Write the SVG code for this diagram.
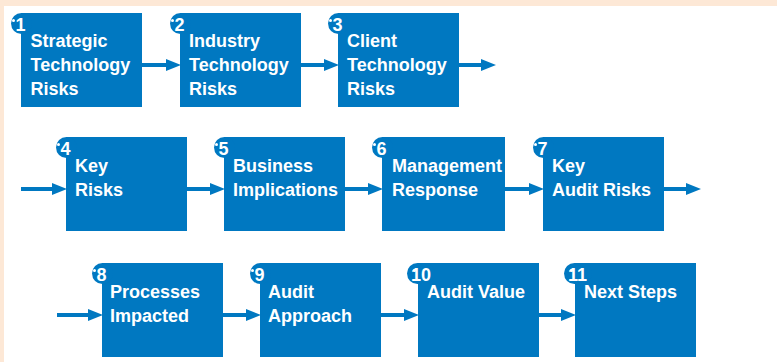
<svg xmlns="http://www.w3.org/2000/svg" width="777" height="362" viewBox="0 0 777 362">
  <style>
    .box { fill: #0078c1; }
    .badge { fill: #0078c1; }
    .dot { fill: #ffffff; }
    .num { font-family: "Liberation Sans", Arial, sans-serif; font-weight: bold; font-size: 18px; fill: #ffffff; }
    .lbl { font-family: "Liberation Sans", Arial, sans-serif; font-weight: bold; font-size: 18px; fill: #ffffff; }
    .flow { stroke: #0078c1; stroke-width: 4; fill: none; }
  </style>
  <defs>
    <marker id="head" markerUnits="userSpaceOnUse" markerWidth="15" markerHeight="12" refX="0" refY="6" orient="auto">
      <path d="M0,0 L15,6 L0,12 z" fill="#0078c1"/>
    </marker>
  </defs>

  <!-- page background with tinted top and left margins -->
  <rect x="0" y="0" width="777" height="362" fill="#ffffff"/>
  <rect x="0" y="0" width="777" height="6" fill="#fde8d6"/>
  <rect x="0" y="0" width="4" height="362" fill="#fde8d6"/>

  <!-- connectors -->
  <g id="connectors">
    <line class="flow" x1="142" y1="65" x2="166" y2="65" marker-end="url(#head)"/>
    <line class="flow" x1="301" y1="65" x2="324" y2="65" marker-end="url(#head)"/>
    <line class="flow" x1="459" y1="65" x2="481" y2="65" marker-end="url(#head)"/>

    <line class="flow" x1="21" y1="189" x2="52" y2="189" marker-end="url(#head)"/>
    <line class="flow" x1="187" y1="189" x2="210" y2="189" marker-end="url(#head)"/>
    <line class="flow" x1="345" y1="189" x2="368" y2="189" marker-end="url(#head)"/>
    <line class="flow" x1="505" y1="189" x2="529" y2="189" marker-end="url(#head)"/>
    <line class="flow" x1="664" y1="189" x2="686" y2="189" marker-end="url(#head)"/>

    <line class="flow" x1="57" y1="315" x2="88" y2="315" marker-end="url(#head)"/>
    <line class="flow" x1="223" y1="315" x2="246" y2="315" marker-end="url(#head)"/>
    <line class="flow" x1="381" y1="315" x2="404" y2="315" marker-end="url(#head)"/>
    <line class="flow" x1="539" y1="315" x2="561" y2="315" marker-end="url(#head)"/>
  </g>

  <!-- row 1 -->
  <g id="step1">
    <rect class="box" x="21" y="13" width="121" height="94"/>
    <circle class="badge" cx="21.5" cy="23.5" r="10.5"/>
    <circle class="dot" cx="13.5" cy="20.5" r="1.5"/>
    <text class="num" x="15.5" y="31">1</text>
    <text class="lbl" x="30.5" y="47">Strategic</text>
    <text class="lbl" x="30.5" y="71">Technology</text>
    <text class="lbl" x="30.5" y="95">Risks</text>
  </g>
  <g id="step2">
    <rect class="box" x="180" y="13" width="121" height="94"/>
    <circle class="badge" cx="180.5" cy="23.5" r="10.5"/>
    <circle class="dot" cx="172.5" cy="20.5" r="1.5"/>
    <text class="num" x="174.5" y="31">2</text>
    <text class="lbl" x="189" y="47">Industry</text>
    <text class="lbl" x="189" y="71">Technology</text>
    <text class="lbl" x="189" y="95">Risks</text>
  </g>
  <g id="step3">
    <rect class="box" x="338" y="13" width="121" height="94"/>
    <circle class="badge" cx="338.5" cy="23.5" r="10.5"/>
    <circle class="dot" cx="330.5" cy="20.5" r="1.5"/>
    <text class="num" x="332.5" y="31">3</text>
    <text class="lbl" x="347" y="47">Client</text>
    <text class="lbl" x="347" y="71">Technology</text>
    <text class="lbl" x="347" y="95">Risks</text>
  </g>

  <!-- row 2 -->
  <g id="step4">
    <rect class="box" x="66" y="137" width="121" height="94"/>
    <circle class="badge" cx="66.5" cy="147.5" r="10.5"/>
    <circle class="dot" cx="58.5" cy="144.5" r="1.5"/>
    <text class="num" x="60.5" y="155">4</text>
    <text class="lbl" x="75" y="172">Key</text>
    <text class="lbl" x="75" y="196">Risks</text>
  </g>
  <g id="step5">
    <rect class="box" x="224" y="137" width="121" height="94"/>
    <circle class="badge" cx="224.5" cy="147.5" r="10.5"/>
    <circle class="dot" cx="216.5" cy="144.5" r="1.5"/>
    <text class="num" x="218.5" y="155">5</text>
    <text class="lbl" x="233" y="172">Business</text>
    <text class="lbl" x="233" y="196">Implications</text>
  </g>
  <g id="step6">
    <rect class="box" x="382" y="137" width="123" height="94"/>
    <circle class="badge" cx="382.5" cy="147.5" r="10.5"/>
    <circle class="dot" cx="374.5" cy="144.5" r="1.5"/>
    <text class="num" x="376.5" y="155">6</text>
    <text class="lbl" x="392" y="172">Management</text>
    <text class="lbl" x="392" y="196">Response</text>
  </g>
  <g id="step7">
    <rect class="box" x="543" y="137" width="121" height="94"/>
    <circle class="badge" cx="543.5" cy="147.5" r="10.5"/>
    <circle class="dot" cx="535.5" cy="144.5" r="1.5"/>
    <text class="num" x="537.5" y="155">7</text>
    <text class="lbl" x="552" y="172">Key</text>
    <text class="lbl" x="552" y="196">Audit Risks</text>
  </g>

  <!-- row 3 -->
  <g id="step8">
    <rect class="box" x="102" y="263" width="121" height="94"/>
    <circle class="badge" cx="102.5" cy="273.5" r="10.5"/>
    <circle class="dot" cx="94.5" cy="270.5" r="1.5"/>
    <text class="num" x="96.5" y="281">8</text>
    <text class="lbl" x="110" y="298">Processes</text>
    <text class="lbl" x="110" y="322">Impacted</text>
  </g>
  <g id="step9">
    <rect class="box" x="260" y="263" width="121" height="94"/>
    <circle class="badge" cx="260.5" cy="273.5" r="10.5"/>
    <circle class="dot" cx="252.5" cy="270.5" r="1.5"/>
    <text class="num" x="254.5" y="281">9</text>
    <text class="lbl" x="268" y="298">Audit</text>
    <text class="lbl" x="268" y="322">Approach</text>
  </g>
  <g id="step10">
    <rect class="box" x="418" y="263" width="121" height="94"/>
    <rect class="badge" x="407" y="263" width="28" height="21" rx="10.5"/>
    <circle class="dot" cx="414.5" cy="270.5" r="1.5"/>
    <text class="num" x="411" y="281">10</text>
    <text class="lbl" x="427" y="298">Audit Value</text>
  </g>
  <g id="step11">
    <rect class="box" x="575" y="263" width="121" height="94"/>
    <rect class="badge" x="564" y="263" width="28" height="21" rx="10.5"/>
    <circle class="dot" cx="571.5" cy="270.5" r="1.5"/>
    <text class="num" x="568" y="281">11</text>
    <text class="lbl" x="584" y="298">Next Steps</text>
  </g>
</svg>
